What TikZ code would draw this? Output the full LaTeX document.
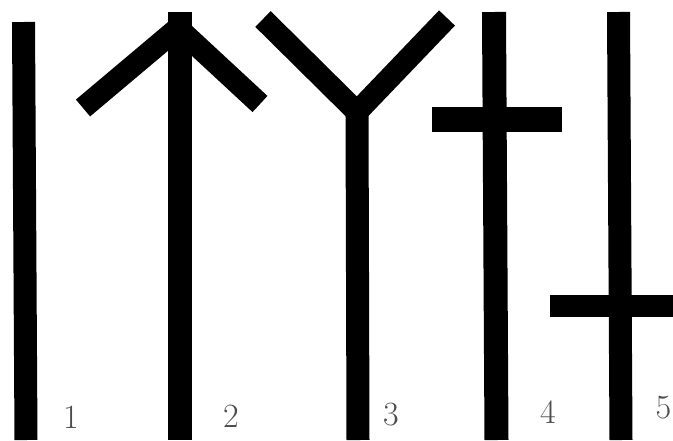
\documentclass[tikz,border=0pt]{standalone}
\usepackage{xcolor}

\begin{document}
\begin{tikzpicture}[
  x=1pt, y=-1pt,
  bar/.style={line width=23pt, line cap=butt, line join=miter},
  num/.style={font=\fontsize{34}{34}\selectfont, text=black!70, inner sep=0pt}
]
\useasboundingbox (0,0) rectangle (673,440);

% 1: plain stave
\draw[bar] (23.5,22) -- (26,440);

% 2: arrow
\draw[bar, line width=22pt] (83,108) -- (178,28) -- (260,104);
\draw[bar, line width=24pt] (180,12) -- (180,440);

% 3: fork
\draw[bar, line width=22pt] (263,19) -- (357,112) -- (447,18);
\draw[bar] (357,105) -- (358,440);

% 4: high cross
\draw[bar, line width=24pt] (494,12) -- (496.5,440);
\draw[bar, line width=25pt] (432,119.5) -- (562,119.5);

% 5: low cross
\draw[bar] (618.5,12) -- (621,440);
\draw[bar, line width=22pt] (550,306) -- (673,306);

\node[num] (lab1) at (71,417) {1};
\node[num] (lab2) at (231,416) {2};
\node[num] (lab3) at (391,415) {3};
\node[num] (lab4) at (548,412) {4};
\node[num] (lab5) at (663.5,408) {5};

\end{tikzpicture}
\end{document}
